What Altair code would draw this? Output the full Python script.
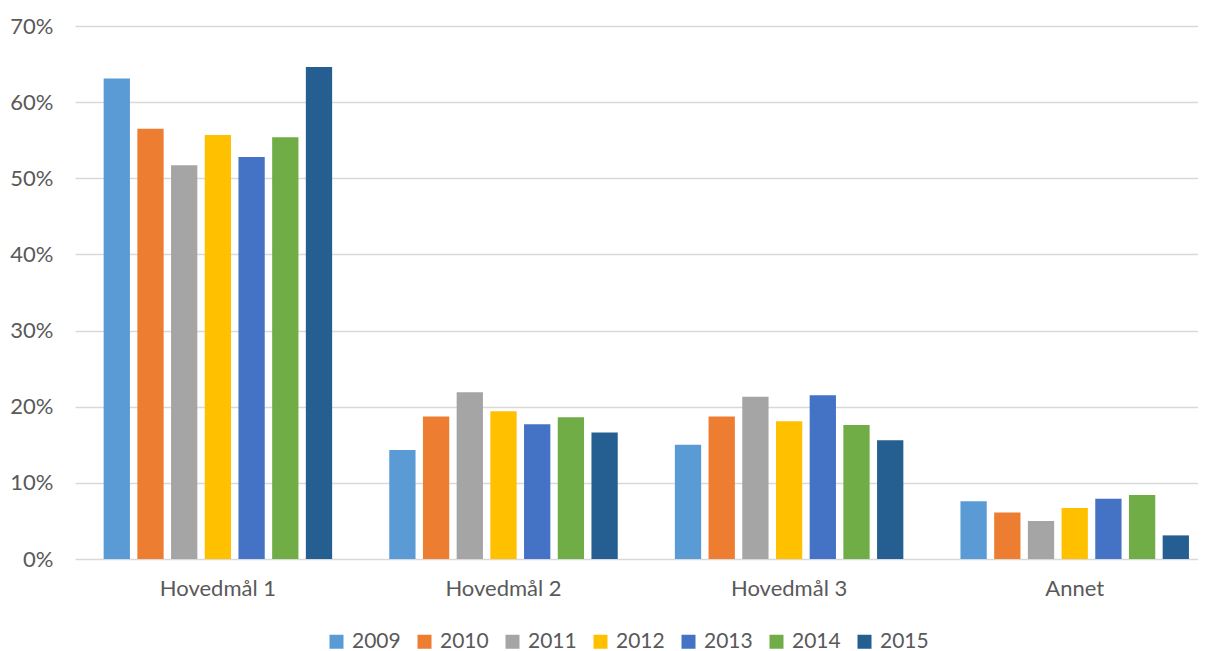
import altair as alt
import pandas as pd

categories = ["Hovedmål 1", "Hovedmål 2", "Hovedmål 3", "Annet"]
years = ["2009", "2010", "2011", "2012", "2013", "2014", "2015"]
v2009 = [63.1, 14.3, 15.0, 7.6]
v2010 = [56.5, 18.7, 18.7, 6.1]
v2011 = [51.7, 21.9, 21.3, 5.0]
v2012 = [55.7, 19.4, 18.1, 6.7]
v2013 = [52.8, 17.7, 21.5, 7.9]
v2014 = [55.4, 18.6, 17.6, 8.4]
v2015 = [64.6, 16.6, 15.6, 3.1]
colors = ["#5B9BD5", "#ED7D31", "#A5A5A5", "#FFC000", "#4472C4", "#70AD47", "#255E91"]

series = [v2009, v2010, v2011, v2012, v2013, v2014, v2015]
rows = []
for yr, vals in zip(years, series):
    for c, v in zip(categories, vals):
        rows.append({"kategori": c, "år": yr, "andel": v / 100})
df = pd.DataFrame(rows)

FONT = "Lato"
TXT = "#595959"

chart = alt.Chart(df).mark_bar().encode(
    x=alt.X(
        "kategori:N",
        sort=categories,
        scale=alt.Scale(paddingInner=0.2, paddingOuter=0.066, align=0.76),
        axis=alt.Axis(title=None, labelAngle=0, ticks=False, domain=False,
                      labelPadding=19, labelFontSize=22, labelColor=TXT,
                      labelFont=FONT),
    ),
    xOffset=alt.XOffset("år:N", sort=years,
                        scale=alt.Scale(paddingInner=0.22, paddingOuter=0)),
    y=alt.Y(
        "andel:Q",
        scale=alt.Scale(domain=[0, 0.7], nice=False),
        axis=alt.Axis(title=None, format=".0%", values=[0, 0.1, 0.2, 0.3, 0.4, 0.5, 0.6, 0.7],
                      ticks=False, domain=False, labelPadding=22, labelFontSize=22,
                      labelColor=TXT, labelFont=FONT, gridColor="#D9D9D9",
                      gridWidth=1.3),
    ),
    color=alt.Color(
        "år:N", sort=years,
        scale=alt.Scale(domain=years, range=colors),
        legend=alt.Legend(title=None, orient="none", direction="horizontal",
                          legendX=251, legendY=605, columns=7, symbolType="square",
                          symbolSize=196, symbolStrokeWidth=0, labelFontSize=21,
                          labelColor=TXT, labelFont=FONT, columnPadding=13,
                          labelOffset=5, padding=0),
    ),
).properties(
    width=1123, height=533,
    autosize=alt.AutoSizeParams(type="none"),
    padding={"left": 67, "top": 18, "right": 0, "bottom": 92},
).configure_view(stroke=None)

chart.save("out.html", embed_options={"renderer": "svg", "actions": False})
